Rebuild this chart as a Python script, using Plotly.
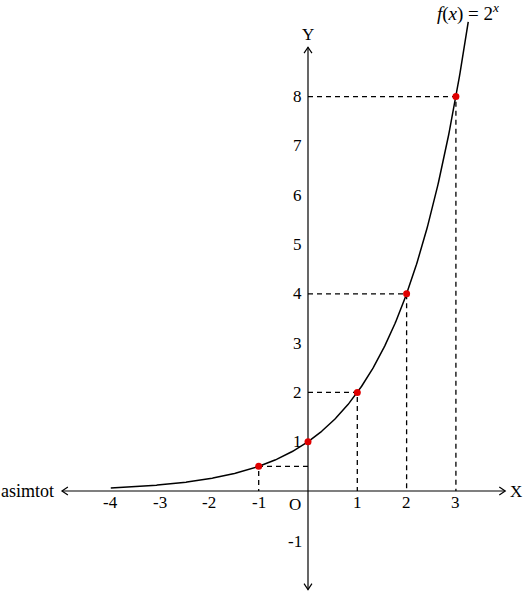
import numpy as np
import plotly.graph_objects as go

# Data
point_x = [-1, 0, 1, 2, 3]
point_y = [0.5, 1, 2, 4, 8]
curve_start, curve_end = -4, 3.25
x_ticks = [-4, -3, -2, -1, 1, 2, 3]
y_ticks = [1, 2, 3, 4, 5, 6, 7, 8, -1]

curve_x = np.linspace(curve_start, curve_end, 400)
curve_y = 2.0 ** curve_x

FONT = "Liberation Serif"
FS = 17
fig = go.Figure()

# dashed guide lines
for px, py in zip(point_x, point_y):
    if px == 0:
        continue
    fig.add_trace(go.Scatter(x=[0, px, px], y=[py, py, 0], mode="lines",
                             line=dict(color="black", width=1.3, dash="5px,4px"),
                             hoverinfo="skip", showlegend=False))

# axes lines
fig.add_trace(go.Scatter(x=[-4.99, 4.0], y=[0, 0], mode="lines",
                         line=dict(color="black", width=1.2), showlegend=False))
fig.add_trace(go.Scatter(x=[0, 0], y=[-2.0, 9.0], mode="lines",
                         line=dict(color="black", width=1.2), showlegend=False))

# arrowheads (open)
h = 0.12
w = 0.08
arrows = [
    [(4.0 - h, w), (4.0, 0), (4.0 - h, -w)],
    [(-4.99 + h, w), (-4.99, 0), (-4.99 + h, -w)],
    [(-w, 9.0 - h), (0, 9.0), (w, 9.0 - h)],
    [(-w, -2.0 + h), (0, -2.0), (w, -2.0 + h)],
]
for a in arrows:
    fig.add_trace(go.Scatter(x=[p[0] for p in a], y=[p[1] for p in a], mode="lines",
                             line=dict(color="black", width=1.2), showlegend=False))

# curve
fig.add_trace(go.Scatter(x=curve_x, y=curve_y, mode="lines",
                         line=dict(color="black", width=1.5), showlegend=False))

# points
fig.add_trace(go.Scatter(x=point_x, y=point_y, mode="markers",
                         marker=dict(color="#e00000", size=7), showlegend=False))

ann = []
def txt(x, y, t, xanchor="center", yanchor="middle", size=FS):
    ann.append(dict(x=x, y=y, text=t, showarrow=False, xanchor=xanchor,
                    yanchor=yanchor, font=dict(family=FONT, size=size, color="black")))

for t in x_ticks:
    txt(t, -0.24, str(t))
for t in y_ticks:
    txt(-0.08, t if t != -1 else -1.03, str(t), xanchor="right")
txt(-0.26, -0.28, "O")
txt(0, 9.25, "Y")
txt(4.22, 0, "X")
txt(-5.11, 0, "asimtot", xanchor="right", size=18)
txt(3.25, 9.70, "<i>f</i>(<i>x</i>) = 2<sup><i>x</i></sup>", size=19)

fig.update_layout(
    width=524, height=591,
    margin=dict(l=0, r=0, t=0, b=0),
    plot_bgcolor="white", paper_bgcolor="white",
    xaxis=dict(range=[-6.247, 4.381], visible=False, fixedrange=True),
    yaxis=dict(range=[-2.028, 9.959], visible=False, fixedrange=True),
    annotations=ann,
    showlegend=False,
)

fig.write_html(
    "out.html",
    config={"displayModeBar": False},
    post_script="document.body.style.margin='0';document.body.style.overflow='hidden';",
)
